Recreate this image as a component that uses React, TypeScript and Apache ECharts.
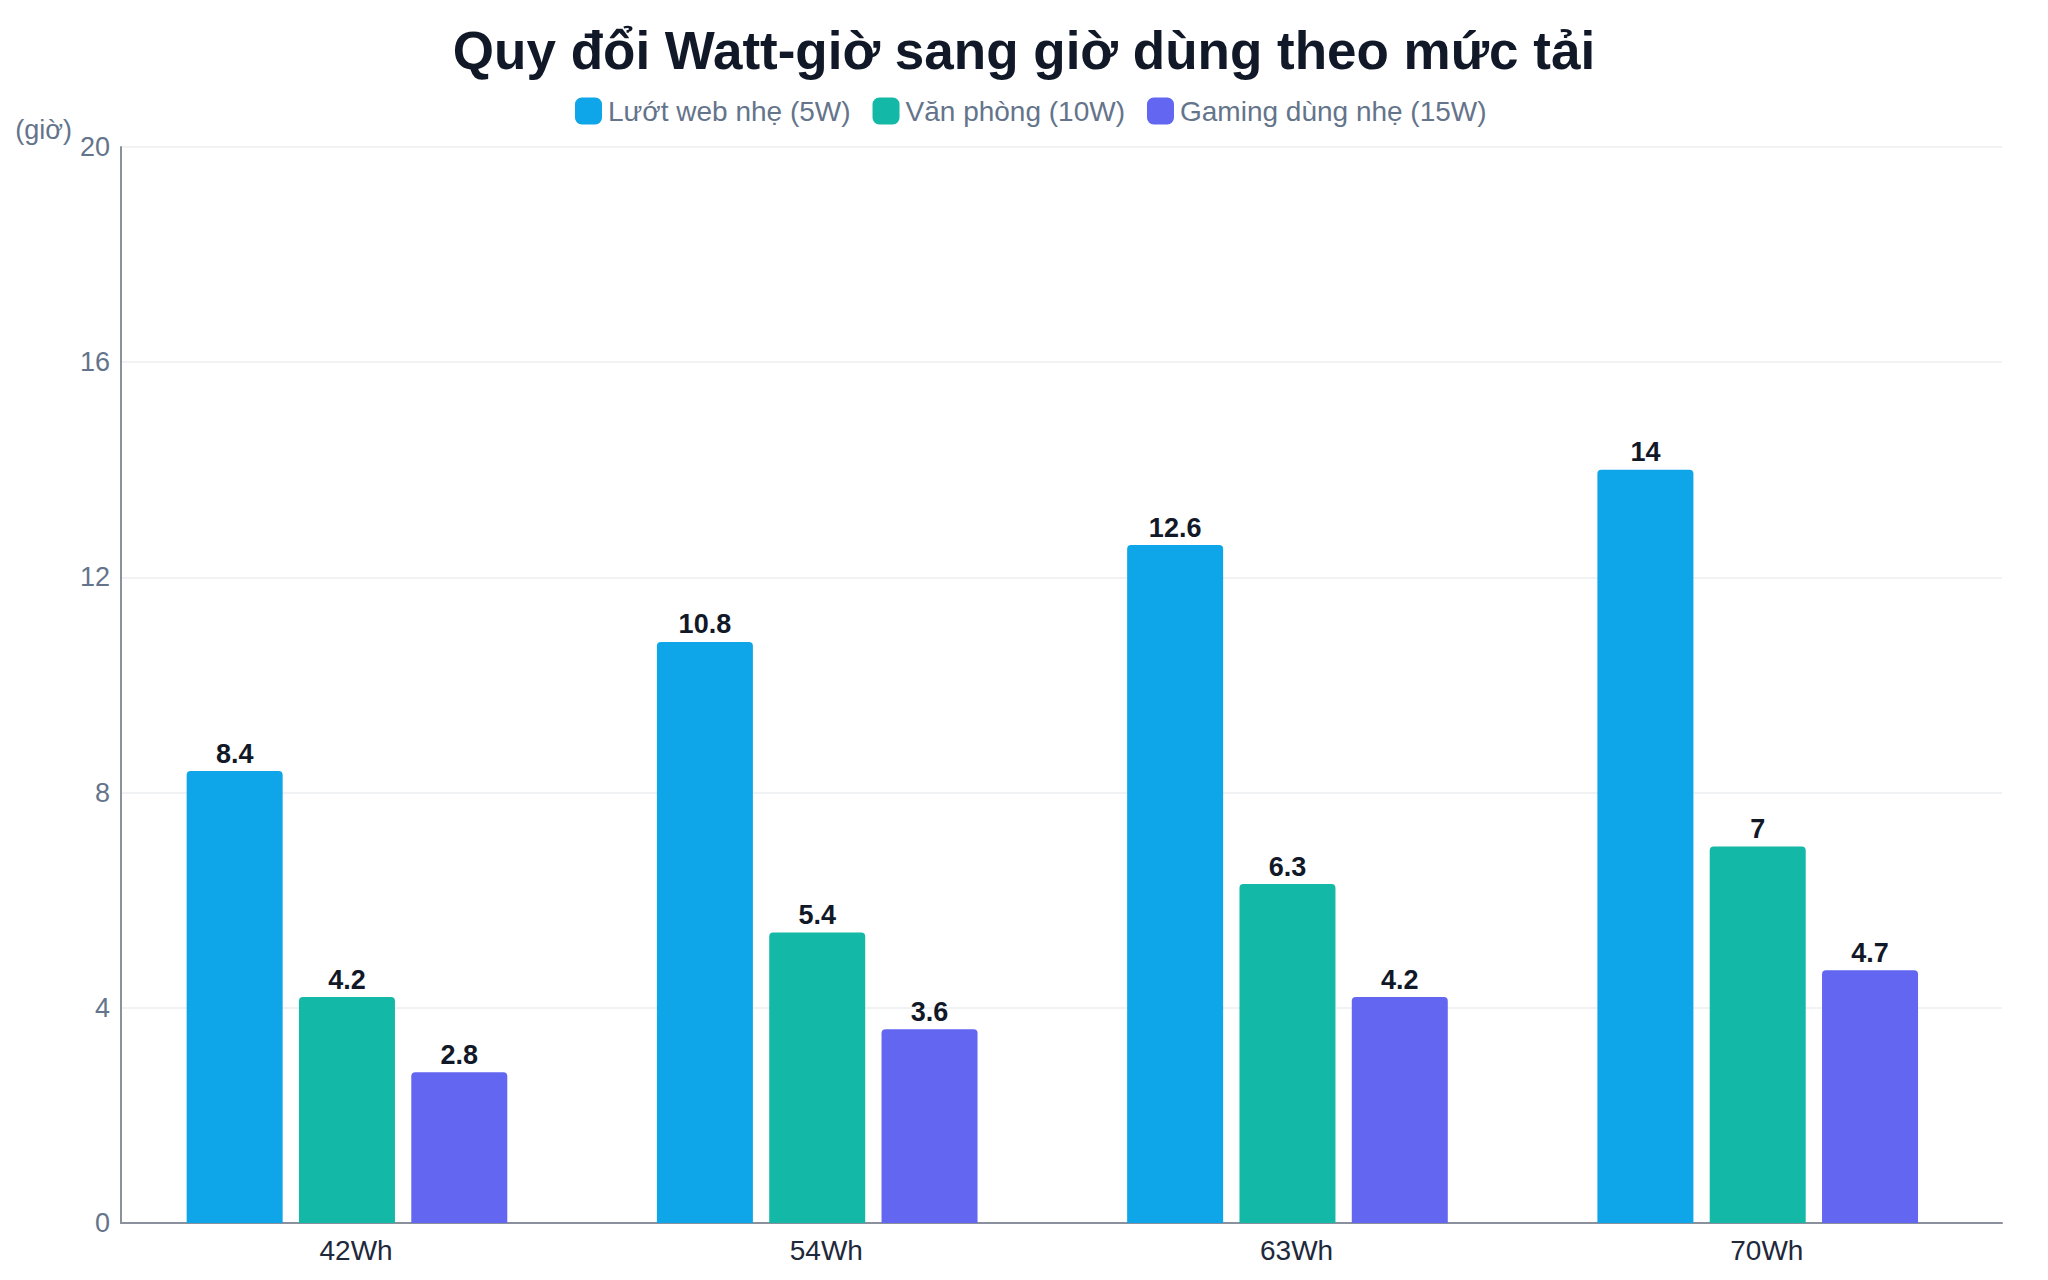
import React, { useEffect, useRef } from "react";
import * as echarts from "echarts";

const categories = ["42Wh", "54Wh", "63Wh", "70Wh"];
const seriesNames = ["Lướt web nhẹ (5W)", "Văn phòng (10W)", "Gaming dùng nhẹ (15W)"];
const webValues = [8.4, 10.8, 12.6, 14];
const officeValues = [4.2, 5.4, 6.3, 7];
const gamingValues = [2.8, 3.6, 4.2, 4.7];
const colors = ["#0ea5e9", "#14b8a6", "#6366f1"];

const FONT = "'Liberation Sans', Arial, Helvetica, sans-serif";

export default function App() {
  const ref = useRef<HTMLDivElement>(null);
  useEffect(() => {
    document.body.style.margin = "0";
    const chart = echarts.init(ref.current!, null, { renderer: "svg" });
    const dataSets = [webValues, officeValues, gamingValues];
    const barSeries: any[] = seriesNames.map((name, i) => ({
      name,
      type: "bar",
      data: dataSets[i],
      barWidth: 96,
      barGap: "17%",
      itemStyle: { color: colors[i], borderRadius: [4, 4, 0, 0] },
      label: {
        show: true,
        position: "top",
        distance: 4,
        fontSize: 27,
        fontWeight: "bold",
        color: "#111827",
        fontFamily: FONT,
      },
    }));
    // empty spacer slot (no data) reproducing the reference's slight leftward group offset
    barSeries.push({ name: "spacer", type: "bar", data: [], barWidth: 2, silent: true });
    chart.setOption({
      animation: false,
      backgroundColor: "#ffffff",
      textStyle: { fontFamily: FONT },
      title: {
        text: "Quy đổi Watt-giờ sang giờ dùng theo mức tải",
        left: "center",
        top: 19,
        textStyle: { fontSize: 53, fontWeight: "bold", color: "#111827", fontFamily: FONT },
      },
      legend: {
        data: seriesNames,
        top: 92,
        left: 570,
        icon: "roundRect",
        itemWidth: 27,
        itemHeight: 27,
        itemGap: 22,
        textStyle: { fontSize: 28, color: "#64748b", fontFamily: FONT, padding: [0, 0, 0, 1] },
      },
      grid: { left: 121, right: 46, top: 147, bottom: 57, containLabel: false },
      xAxis: {
        type: "category",
        data: categories,
        axisLine: { show: true, lineStyle: { color: "#8a909c", width: 2 } },
        axisTick: { show: false },
        axisLabel: { fontSize: 28, color: "#1e293b", margin: 13, fontFamily: FONT },
      },
      yAxis: {
        type: "value",
        min: 0,
        max: 20,
        interval: 4,
        name: "(giờ)",
        nameLocation: "end",
        nameGap: 4,
        nameTextStyle: { fontSize: 27, color: "#64748b", align: "right", padding: [0, 49, 0, 0], fontFamily: FONT },
        axisLine: { show: true, lineStyle: { color: "#8a909c", width: 2 } },
        axisTick: { show: false },
        axisLabel: { fontSize: 27, color: "#64748b", margin: 11, fontFamily: FONT },
        splitLine: { show: true, lineStyle: { color: "#f1f2f4", width: 2 } },
      },
      series: barSeries,
    });
    return () => chart.dispose();
  }, []);
  return <div ref={ref} style={{ width: 2048, height: 1280, position: "absolute", left: 0, top: 0 }} />;
}
